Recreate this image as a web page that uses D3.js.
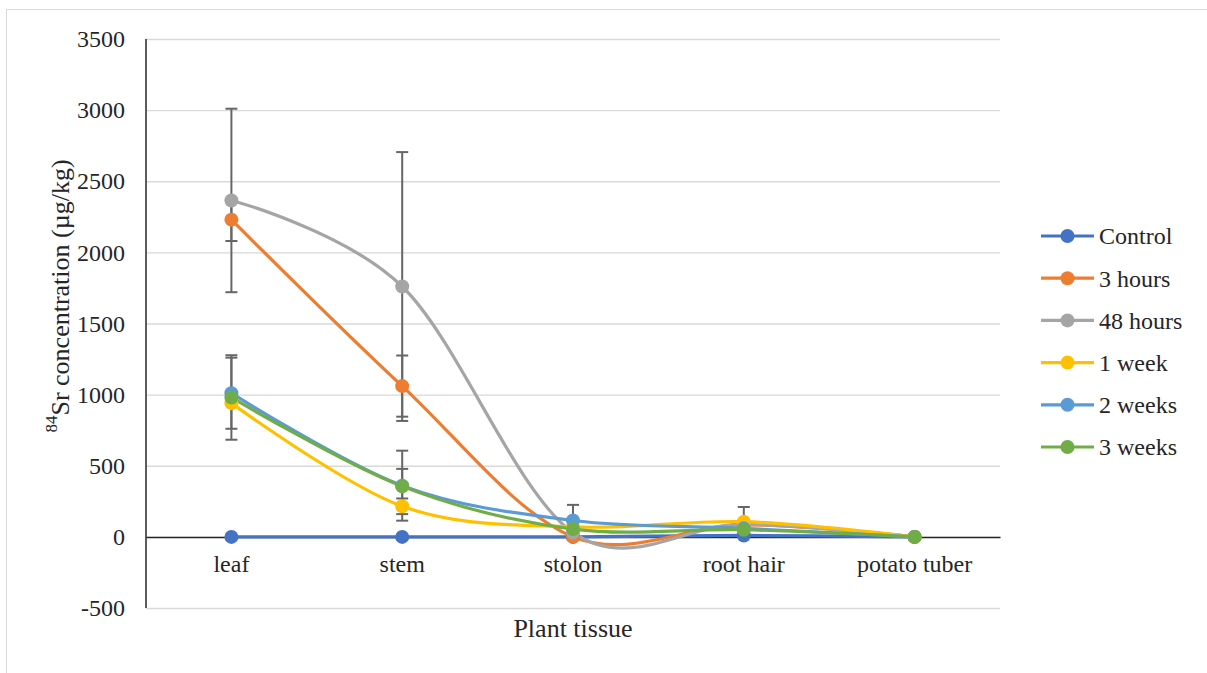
<!DOCTYPE html>
<html>
<head>
<meta charset="utf-8">
<script src="https://cdn.jsdelivr.net/npm/d3@7"></script>
<style>
  body { margin: 0; background: #fff; }
  svg text { font-family: "Liberation Serif", "Times New Roman", Tinos, "DejaVu Serif", serif !important; fill: #262626; }
</style>
</head>
<body>
<div id="chart"></div>
<script>
// Categories and series
var tissues = ["leaf", "stem", "stolon", "root hair", "potato tuber"];
var seriesNames = ["Control", "3 hours", "48 hours", "1 week", "2 weeks", "3 weeks"];
var seriesColors = ["#4472C4", "#ED7D31", "#A5A5A5", "#FFC000", "#5B9BD5", "#70AD47"];

var control = [0, 0, 0, 10, 0];
var hours3 = [2230, 1060, 0, 85, 0];
var hours48 = [2365, 1760, 30, 90, 0];
var week1 = [940, 215, 70, 107, 0];
var weeks2 = [1010, 360, 115, 60, 0];
var weeks3 = [980, 355, 55, 50, 0];

// error bar half-widths
var controlErr = [0, 0, 0, 0, 0];
var hours3Err = [150, 215, 0, 0, 0];
var hours48Err = [645, 945, 0, 0, 0];
var week1Err = [0, 55, 0, 103, 0];
var weeks2Err = [250, 246, 110, 0, 0];
var weeks3Err = [297, 123, 0, 0, 0];

var yTicks = [-500, 0, 500, 1000, 1500, 2000, 2500, 3000, 3500];

var allValues = [control, hours3, hours48, week1, weeks2, weeks3];
var allErrs = [controlErr, hours3Err, hours48Err, week1Err, weeks2Err, weeks3Err];

var series = seriesNames.map(function(name, i) {
  return {
    name: name,
    color: seriesColors[i],
    points: tissues.map(function(t, j) {
      return { tissue: t, value: allValues[i][j], err: allErrs[i][j] };
    })
  };
});

var width = 1207, height = 673;
var plot = { left: 146, right: 1000, top: 39, bottom: 608 };

var svg = d3.select("#chart").append("svg")
  .attr("width", width)
  .attr("height", height);

// chart border
svg.append("rect")
  .attr("x", 6.5).attr("y", 9.5)
  .attr("width", width).attr("height", height)
  .attr("fill", "none")
  .attr("stroke", "#d9d9d9")
  .attr("stroke-width", 1);

var x = d3.scaleBand().domain(tissues).range([plot.left, plot.right]);
var cx = function(t) { return x(t) + x.bandwidth() / 2; };
var y = d3.scaleLinear().domain([-500, 3500]).range([plot.bottom, plot.top]);

// gridlines
svg.append("g")
  .attr("transform", "translate(" + plot.left + ",0)")
  .call(d3.axisLeft(y).tickValues(yTicks).tickSize(-(plot.right - plot.left)).tickFormat(""))
  .call(function(g) {
    g.select(".domain").remove();
    g.selectAll(".tick line").attr("stroke", "#d9d9d9").attr("stroke-width", 1.3);
  });

// y axis labels
svg.append("g")
  .attr("transform", "translate(" + plot.left + ",0)")
  .call(d3.axisLeft(y).tickValues(yTicks).tickSize(0).tickPadding(21).tickFormat(function(d) { return String(d); }))
  .call(function(g) {
    g.attr("font-family", null);
    g.select(".domain").remove();
    g.selectAll("text").style("font-size", "24px");
  });

// y axis line
svg.append("line")
  .attr("x1", plot.left).attr("x2", plot.left)
  .attr("y1", plot.top).attr("y2", plot.bottom)
  .attr("stroke", "#262626").attr("stroke-width", 1.5);

// x axis at zero
svg.append("g")
  .attr("transform", "translate(0," + y(0) + ")")
  .call(d3.axisBottom(x).tickSize(0).tickPadding(18))
  .call(function(g) {
    g.attr("font-family", null);
    g.select(".domain").attr("stroke", "#262626").attr("stroke-width", 1.5);
    g.selectAll("text").style("font-size", "24px");
  });

// smoothed lines
var line = d3.line()
  .x(function(d) { return cx(d.tissue); })
  .y(function(d) { return y(d.value); })
  .curve(d3.curveCardinal.tension(0));

svg.append("g").selectAll("path")
  .data(series)
  .enter()
  .append("path")
  .attr("d", function(d) { return line(d.points); })
  .attr("fill", "none")
  .attr("stroke", function(d) { return d.color; })
  .attr("stroke-width", 3.2);

// error bars
var errPoints = [];
series.forEach(function(s) {
  s.points.forEach(function(p) { if (p.err > 0) errPoints.push(p); });
});
var eb = svg.append("g").attr("stroke", "#666").attr("stroke-width", 2);
errPoints.forEach(function(p) {
  var px = cx(p.tissue);
  eb.append("line").attr("x1", px).attr("x2", px)
    .attr("y1", y(p.value + p.err)).attr("y2", y(p.value - p.err));
  [p.value + p.err, p.value - p.err].forEach(function(v) {
    eb.append("line").attr("x1", px - 6).attr("x2", px + 6)
      .attr("y1", y(v)).attr("y2", y(v));
  });
});

// markers
series.forEach(function(s) {
  svg.append("g").selectAll("circle")
    .data(s.points)
    .enter()
    .append("circle")
    .attr("cx", function(d) { return cx(d.tissue); })
    .attr("cy", function(d) { return y(d.value); })
    .attr("r", 7)
    .attr("fill", s.color);
});

// axis titles
svg.append("text")
  .attr("x", (plot.left + plot.right) / 2)
  .attr("y", 637)
  .attr("text-anchor", "middle")
  .style("font-size", "26px")
  .text("Plant tissue");

var yt = svg.append("text")
  .attr("transform", "translate(65,296) rotate(-90)")
  .attr("text-anchor", "middle")
  .style("font-size", "26px");
yt.append("tspan").attr("dy", "-0.45em").style("font-size", "17px").text("84");
yt.append("tspan").attr("dy", "0.45em").text("Sr concentration (µg/kg)");

// legend
var legend = svg.append("g").selectAll("g")
  .data(series)
  .enter()
  .append("g")
  .attr("transform", function(d, i) { return "translate(1041," + (236 + i * 42.2) + ")"; });
legend.append("line")
  .attr("x1", 0).attr("x2", 53)
  .attr("stroke", function(d) { return d.color; })
  .attr("stroke-width", 3.2);
legend.append("circle")
  .attr("cx", 26.5).attr("r", 7)
  .attr("fill", function(d) { return d.color; });
legend.append("text")
  .attr("x", 58).attr("dy", "0.35em")
  .style("font-size", "24px")
  .text(function(d) { return d.name; });
</script>
</body>
</html>
